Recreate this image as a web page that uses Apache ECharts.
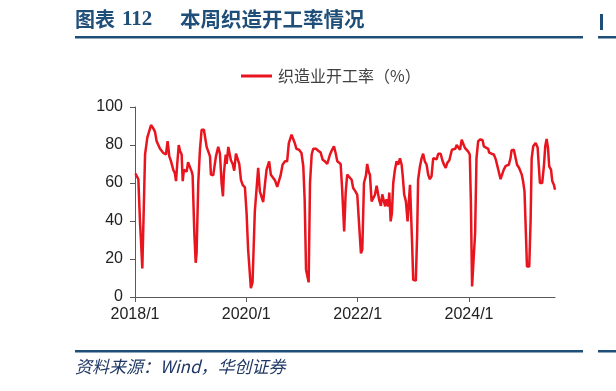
<!DOCTYPE html>
<html>
<head>
<meta charset="utf-8">
<script src="https://cdn.jsdelivr.net/npm/echarts@6/dist/echarts.min.js"></script>
<style>
html,body{margin:0;padding:0;background:#fff;}
#c{width:616px;height:391px;}
</style>
</head>
<body>
<div id="c"></div>
<script>
// ---- data ----
const seriesName = '织造业开工率（%）';
const dates = [
 '2018-01-04','2018-01-14','2018-01-23','2018-02-03','2018-02-09','2018-02-18','2018-03-08','2018-03-23','2018-04-03','2018-04-16',
 '2018-04-29','2018-05-12','2018-05-23','2018-06-05','2018-06-14','2018-06-27','2018-07-06','2018-07-17','2018-07-23','2018-08-03',
 '2018-08-14','2018-08-23','2018-09-01','2018-09-09','2018-09-20','2018-09-27','2018-10-05','2018-10-15','2018-10-23','2018-11-03',
 '2018-11-10','2018-11-18','2018-11-27','2018-12-06','2018-12-15','2018-12-28',
 '2019-01-08','2019-01-14','2019-01-25','2019-02-03','2019-02-09','2019-02-20','2019-03-03','2019-03-14','2019-03-29','2019-04-05',
 '2019-04-16','2019-04-26','2019-05-08','2019-05-14','2019-05-29','2019-06-09','2019-06-16','2019-07-01','2019-07-12','2019-07-23',
 '2019-08-01','2019-08-07','2019-08-19','2019-08-25','2019-09-05','2019-09-16','2019-09-22','2019-10-04','2019-10-14','2019-10-25',
 '2019-11-05','2019-11-16','2019-11-27','2019-12-08','2019-12-23',
 '2020-01-03','2020-01-13','2020-01-20','2020-01-31','2020-02-11','2020-02-20','2020-02-26','2020-03-09','2020-03-19','2020-03-30',
 '2020-04-10','2020-04-21','2020-05-02','2020-05-13','2020-05-24','2020-05-30','2020-06-10','2020-06-21','2020-07-07','2020-07-22',
 '2020-08-04','2020-08-13','2020-08-26','2020-09-10','2020-09-25','2020-10-06','2020-10-17','2020-10-24','2020-11-03','2020-11-14',
 '2020-11-25','2020-12-12','2020-12-28',
 '2021-01-09','2021-01-18','2021-01-27','2021-02-04','2021-02-13','2021-02-22','2021-03-05','2021-03-15','2021-04-02','2021-04-17',
 '2021-05-03','2021-05-16','2021-05-31','2021-06-15','2021-06-24','2021-07-03','2021-07-14','2021-07-29','2021-08-09','2021-08-20',
 '2021-09-02','2021-09-11','2021-09-21','2021-09-28','2021-10-04','2021-10-14','2021-10-24','2021-11-06','2021-11-22','2021-12-02',
 '2021-12-14','2021-12-29',
 '2022-01-11','2022-01-22','2022-01-31','2022-02-11','2022-02-24','2022-03-04','2022-03-15','2022-03-22','2022-04-02','2022-04-13',
 '2022-04-24','2022-05-05','2022-05-13','2022-05-22','2022-06-02','2022-06-11','2022-06-22','2022-06-30','2022-07-09','2022-07-20',
 '2022-07-27','2022-08-05','2022-08-13','2022-08-22','2022-09-02','2022-09-13','2022-09-24','2022-10-05','2022-10-16','2022-10-23',
 '2022-11-02','2022-11-13','2022-11-24','2022-12-03','2022-12-10','2022-12-16','2022-12-23','2022-12-31',
 '2023-01-17','2023-01-26','2023-02-01','2023-02-13','2023-02-24','2023-03-06','2023-03-17','2023-03-29','2023-04-08','2023-04-19',
 '2023-04-30','2023-05-11','2023-05-22','2023-06-03','2023-06-13','2023-06-29','2023-07-10','2023-07-21','2023-08-01','2023-08-11',
 '2023-08-25','2023-09-03','2023-09-11','2023-09-22','2023-10-03','2023-10-12','2023-10-23','2023-11-03','2023-11-14','2023-11-24',
 '2023-12-05','2023-12-17','2023-12-27',
 '2024-01-06','2024-01-13','2024-01-21','2024-02-03','2024-02-10','2024-02-19','2024-03-01','2024-03-16','2024-03-30','2024-04-07',
 '2024-04-20','2024-05-06','2024-05-12','2024-05-28','2024-06-12','2024-06-25','2024-07-03','2024-07-16','2024-07-26','2024-08-05',
 '2024-08-16','2024-08-29','2024-09-07','2024-09-18','2024-09-29','2024-10-06','2024-10-21','2024-11-03','2024-11-11','2024-11-24',
 '2024-12-04','2024-12-12','2024-12-21','2024-12-30',
 '2025-01-08','2025-01-15','2025-01-30','2025-02-08','2025-02-15','2025-02-25','2025-03-13','2025-03-26','2025-04-03','2025-04-10',
 '2025-04-25','2025-05-06','2025-05-15','2025-05-24','2025-06-02','2025-06-10','2025-06-22','2025-06-30','2025-07-11','2025-07-18'
];
const values = [
 65,64,62,39,30,15,75,84,84,90.5,
 89,87,82,81,78,77,75.8,76.5,75,82,
 74,72,71,67,65,61,70,80,77,75,
 61,67,68,66,71,70,
 66,64,34,18,23,60,77.5,88,88,87,
 79,79,74,64.4,64,64,74,79,75.5,60,
 53,65,75,70,79,79,72,70,66.5,75.5,
 75.5,70,61.7,59,57.7,
 44,25,25,4.7,7.7,7.7,45,45,68,55.6,
 55,50,59,67,68,71.4,64.4,64,61.5,58,
 58,64,69.6,71.4,71.4,81,82,85.4,84.5,81,
 78,77.5,75.8,
 68.7,51,14.4,15,7.7,60,75,78,78,77,
 76,72.3,71.4,70,70,75,77,79.3,75.8,71.4,
 71.4,70,56.5,55.6,34.5,55,64.4,65,61.7,57.4,
 56,53.8,
 37,23,25,60,64,70,65.6,64.4,50.3,49.5,
 53.8,58.6,58,51,48,54,54,47.7,51.5,47.7,
 55,39.8,44,60,67,71.4,69.6,73,69.6,64,
 53.8,50.3,39.8,51,59,59,30,9,
 8.6,33.7,61.7,68.7,73,75.4,71.4,69.6,64.4,62,
 63.5,73,72.5,72.5,75.4,75.4,72,69.6,68,70.5,
 72,75,77.5,78,78,80,79,77.5,82.8,82,
 78.5,77.5,76.5,
 75,51,5.6,4.7,33.7,73,82,83,82.5,79.3,
 78.5,78,76,75.4,75,72.3,69.6,68.7,62,64.4,
 67,69,69,69.6,73,77.2,77.5,77.5,69.6,68,
 67,64.4,60.8,55.6,
 33.7,16.1,16,40,73,79.3,81,78.7,68.7,60,
 60,68.7,79.3,83.2,78.5,68.7,67,61,59,56.5
];
const tickYears = [2018, 2020, 2022, 2024];
const axisStart = '2018-01-01';
const axisEnd = '2025-07-18';
const yTicks = [0, 20, 40, 60, 80, 100];

// ---- chart ----
const chart = echarts.init(document.getElementById('c'), null, {renderer: 'canvas'});
const parse = s => { const p = s.split('-').map(Number); return Date.UTC(p[0], p[1]-1, p[2]); };
const seriesData = dates.map((d, i) => [parse(d), values[i]]);
const tickVals = tickYears.map(y => Date.UTC(y, 0, 1));

const titleColor = '#1F4E79';
const axisColor = '#595959';

chart.setOption({
  animation: false,
  backgroundColor: '#fff',
  grid: {left: 135, right: 61, top: 107, bottom: 94, containLabel: false},
  legend: {
    data: [seriesName],
    left: 241, top: 68, padding: 0,
    icon: 'rect', itemWidth: 31, itemHeight: 3, itemGap: 10,
    textStyle: {fontFamily: 'Noto Sans CJK SC', fontSize: 16, color: '#404040', padding: [0, 0, 0, 1]}
  },
  xAxis: {
    type: 'value',
    min: parse(axisStart), max: parse(axisEnd),
    axisLine: {show: true, lineStyle: {color: axisColor, width: 1}},
    axisTick: {show: true, customValues: tickVals, length: 5, lineStyle: {color: axisColor}},
    axisLabel: {
      customValues: tickVals, margin: 10,
      fontFamily: 'Liberation Sans', fontSize: 16, color: '#222',
      formatter: v => new Date(v).getUTCFullYear() + '/1'
    },
    splitLine: {show: false}
  },
  yAxis: {
    type: 'value', min: yTicks[0], max: yTicks[yTicks.length-1], interval: 20,
    axisLine: {show: true, lineStyle: {color: axisColor, width: 1}},
    axisTick: {show: true, length: 5, lineStyle: {color: axisColor}},
    axisLabel: {margin: 12, fontFamily: 'Liberation Sans', fontSize: 16, color: '#222'},
    splitLine: {show: false}
  },
  series: [{
    name: seriesName, type: 'line', data: seriesData,
    symbol: 'none', showSymbol: false,
    lineStyle: {color: '#E8141E', width: 2.5},
    itemStyle: {color: '#E8141E'}
  }],
  graphic: [
    {type: 'text', left: 75, top: 9, style: {text: '图表', font: 'bold 20px "Noto Sans CJK SC"', fill: titleColor}},
    {type: 'text', left: 122, top: 9, style: {text: '112', font: 'bold 21px "Liberation Serif"', fill: titleColor}},
    {type: 'text', left: 180, top: 9, style: {text: '本周织造开工率情况', font: 'bold 20.5px "Noto Sans CJK SC"', fill: titleColor}},
    {type: 'rect', shape: {x: 75, y: 36, width: 508, height: 2.5}, style: {fill: titleColor}},
    {type: 'rect', shape: {x: 598, y: 36, width: 18, height: 2.5}, style: {fill: titleColor}},
    {type: 'rect', shape: {x: 600, y: 14, width: 3, height: 16}, style: {fill: titleColor}},
    {type: 'rect', shape: {x: 75, y: 350, width: 508, height: 2.5}, style: {fill: titleColor}},
    {type: 'rect', shape: {x: 598, y: 350, width: 18, height: 2.5}, style: {fill: titleColor}},
    {type: 'text', left: 75, top: 358, style: {text: '资料来源：Wind，华创证券', font: 'italic 17px "Noto Sans CJK SC"', fill: '#1F3864'}}
  ]
});
</script>
</body>
</html>
